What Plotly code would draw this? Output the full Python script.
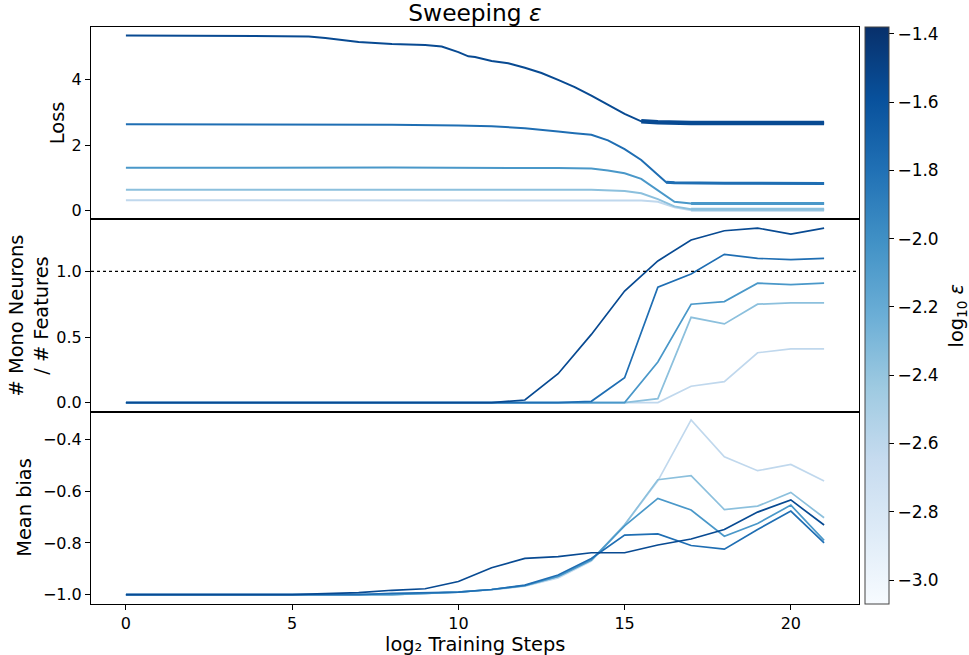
import plotly.graph_objects as go
from plotly.subplots import make_subplots
from plotly.colors import sample_colorscale

# ---------------- data ----------------
log10_eps = [-1.4, -1.7, -2.0, -2.3, -2.6]
color_frac = [0.9, 0.76, 0.6, 0.42, 0.27]

# Loss curves (x = log2 training steps)
loss1_x = [0, 5, 5.5, 6, 7, 8, 9, 9.5, 10, 10.3, 10.5, 11, 11.5, 12, 12.5, 13, 13.5, 14, 14.5, 15, 15.5, 16, 17, 18, 19, 20, 21]
loss1_y = [5.36, 5.35, 5.33, 5.28, 5.16, 5.10, 5.07, 5.02, 4.85, 4.72, 4.70, 4.58, 4.51, 4.37, 4.21, 4.00, 3.78, 3.52, 3.24, 2.96, 2.73, 2.70, 2.68, 2.68, 2.68, 2.68, 2.68]
loss2_x = [0, 5, 8, 10, 11, 12, 12.5, 13, 13.5, 14, 14.5, 15, 15.5, 16, 16.25, 16.5, 18, 21]
loss2_y = [2.64, 2.64, 2.63, 2.60, 2.58, 2.52, 2.48, 2.42, 2.37, 2.32, 2.15, 1.88, 1.55, 1.08, 0.87, 0.85, 0.84, 0.83]
loss3_x = [0, 8, 13, 14, 14.5, 15, 15.5, 16, 16.5, 17, 21]
loss3_y = [1.31, 1.32, 1.30, 1.29, 1.23, 1.14, 0.97, 0.62, 0.27, 0.22, 0.22]
loss4_x = [0, 14, 15, 15.5, 16, 16.5, 17, 21]
loss4_y = [0.64, 0.64, 0.60, 0.53, 0.35, 0.13, 0.04, 0.04]
loss5_x = [0, 15.5, 16, 16.5, 17, 21]
loss5_y = [0.32, 0.31, 0.27, 0.10, 0.01, 0.01]
loss_x = [loss1_x, loss2_x, loss3_x, loss4_x, loss5_x]
loss_y = [loss1_y, loss2_y, loss3_y, loss4_y, loss5_y]
loss_band_start = [15.5, 16.25, 17, 17, 17]
loss_band_width = [4.5, 3.0, 3.0, 3.0, 3.0]

steps = [0, 1, 2, 3, 4, 5, 6, 7, 8, 9, 10, 11, 12, 13, 14, 15, 16, 17, 18, 19, 20, 21]

mono1 = [0, 0, 0, 0, 0, 0, 0, 0, 0, 0, 0, 0, 0.02, 0.22, 0.52, 0.85, 1.08, 1.24, 1.31, 1.33, 1.285, 1.33]
mono2 = [0, 0, 0, 0, 0, 0, 0, 0, 0, 0, 0, 0, 0, 0, 0.01, 0.19, 0.88, 0.98, 1.13, 1.10, 1.09, 1.10]
mono3 = [0, 0, 0, 0, 0, 0, 0, 0, 0, 0, 0, 0, 0, 0, 0, 0, 0.31, 0.75, 0.77, 0.91, 0.90, 0.91]
mono4 = [0, 0, 0, 0, 0, 0, 0, 0, 0, 0, 0, 0, 0, 0, 0, 0, 0.03, 0.65, 0.60, 0.75, 0.76, 0.76]
mono5 = [0, 0, 0, 0, 0, 0, 0, 0, 0, 0, 0, 0, 0, 0, 0, 0, 0, 0.125, 0.16, 0.38, 0.41, 0.41]
mono = [mono1, mono2, mono3, mono4, mono5]

bias1 = [-1.0, -1.0, -1.0, -1.0, -1.0, -1.0, -0.996, -0.992, -0.983, -0.977, -0.949, -0.896, -0.86, -0.853, -0.838, -0.838, -0.808, -0.785, -0.748, -0.681, -0.634, -0.731]
bias2 = [-1.0, -1.0, -1.0, -1.0, -1.0, -1.0, -1.0, -1.0, -0.995, -0.992, -0.99, -0.98, -0.963, -0.924, -0.86, -0.77, -0.765, -0.81, -0.824, -0.748, -0.677, -0.80]
bias3 = [-1.0, -1.0, -1.0, -1.0, -1.0, -1.0, -1.0, -1.0, -1.0, -0.995, -0.99, -0.98, -0.965, -0.93, -0.866, -0.734, -0.628, -0.673, -0.774, -0.725, -0.654, -0.79]
bias4 = [-1.0, -1.0, -1.0, -1.0, -1.0, -1.0, -1.0, -1.0, -1.0, -0.995, -0.99, -0.98, -0.965, -0.93, -0.866, -0.73, -0.556, -0.54, -0.671, -0.658, -0.605, -0.703]
bias5 = [-1.0, -1.0, -1.0, -1.0, -1.0, -1.0, -1.0, -1.0, -1.0, -0.996, -0.99, -0.982, -0.967, -0.935, -0.87, -0.73, -0.56, -0.325, -0.467, -0.521, -0.497, -0.561]
bias = [bias1, bias2, bias3, bias4, bias5]

x_ticks = [0, 5, 10, 15, 20]
cbar_ticks = [-3.0, -2.8, -2.6, -2.4, -2.2, -2.0, -1.8, -1.6, -1.4]
cbar_min, cbar_max = -3.07, -1.38

# ---------------- figure ----------------
FONT = "DejaVu Sans"
TFS = 16      # tick labels
LFS = 19.4    # axis labels
W, H = 969, 655
ML, MR, MT, MB = 91, 110, 27, 51
colors = sample_colorscale("Blues", color_frac)

pw = W - ML - MR
ph = H - MT - MB
def px(xpix):
    return (xpix - ML) / pw
def py(ypix):
    return (H - MB - ypix) / ph

fig = make_subplots(rows=3, cols=1, shared_xaxes=True, vertical_spacing=0)

order = [4, 3, 2, 1, 0]  # lightest first, darkest on top
for i in order:
    c = colors[i]
    fig.add_trace(go.Scatter(x=loss_x[i], y=loss_y[i], mode="lines",
                             line=dict(color=c, width=2), showlegend=False,
                             hoverinfo="skip"), row=1, col=1)
    bx = [x for x in loss_x[i] if x >= loss_band_start[i]]
    by = [y for x, y in zip(loss_x[i], loss_y[i]) if x >= loss_band_start[i]]
    fig.add_trace(go.Scatter(x=bx, y=by, mode="lines",
                             line=dict(color=c, width=loss_band_width[i]),
                             showlegend=False, hoverinfo="skip"), row=1, col=1)
for i in order:
    fig.add_trace(go.Scatter(x=steps, y=mono[i], mode="lines",
                             line=dict(color=colors[i], width=1.7), showlegend=False),
                  row=2, col=1)
for i in order:
    fig.add_trace(go.Scatter(x=steps, y=bias[i], mode="lines",
                             line=dict(color=colors[i], width=1.7), showlegend=False),
                  row=3, col=1)

# colorbar via a dummy trace
fig.add_trace(go.Scatter(
    x=[None], y=[None], mode="markers", showlegend=False,
    marker=dict(colorscale="Blues", cmin=cbar_min, cmax=cbar_max, color=[-2.0],
                showscale=True,
                colorbar=dict(
                    xref="paper", x=px(865), xanchor="left", xpad=0,
                    yref="paper", y=0.5, yanchor="middle",
                    lenmode="fraction", len=1.0, ypad=0,
                    thickness=24, outlinewidth=1, outlinecolor="#444",
                    tickvals=cbar_ticks, tickformat=".1f", ticks="outside",
                    ticklen=5, tickwidth=1.2, tickcolor="black",
                    tickfont=dict(family=FONT, size=TFS + 1, color="black"),
                ))), row=1, col=1)

# dotted reference line at 1.0
fig.add_shape(type="line", xref="x2 domain", yref="y2", x0=0, x1=1, y0=1.0, y1=1.0,
              line=dict(color="black", width=1.3, dash="dot"))

axis_common = dict(showline=True, linecolor="black", linewidth=1, mirror=True,
                   showgrid=False, zeroline=False, ticks="outside", ticklen=5,
                   tickwidth=1, tickcolor="black", automargin=False,
                   tickfont=dict(family=FONT, size=TFS, color="black"))

for r in (1, 2, 3):
    fig.update_xaxes(range=[-1.05, 22.05], **axis_common, row=r, col=1)
fig.update_xaxes(showticklabels=False, ticks="", row=1, col=1)
fig.update_xaxes(showticklabels=False, ticks="", row=2, col=1)
fig.update_xaxes(tickvals=x_ticks, showticklabels=True, row=3, col=1)

fig.update_yaxes(range=[-0.267, 5.617], tickvals=[0, 2, 4], **axis_common, row=1, col=1)
fig.update_yaxes(range=[-0.069, 1.397], tickvals=[0.0, 0.5, 1.0], tickformat=".1f",
                 **axis_common, row=2, col=1)
fig.update_yaxes(range=[-1.036, -0.293], tickvals=[-1.0, -0.8, -0.6, -0.4],
                 tickformat=".1f", **axis_common, row=3, col=1)

# axis titles as annotations
lab_font = dict(family=FONT, size=LFS, color="black")
fig.add_annotation(text="log₂ Training Steps", xref="paper", yref="paper",
                   x=0.5, y=py(644), showarrow=False, font=lab_font,
                   xanchor="center", yanchor="middle")
fig.add_annotation(text="Loss", xref="paper", yref="paper", x=px(57), y=5 / 6,
                   textangle=-90, showarrow=False, font=lab_font,
                   xanchor="center", yanchor="middle")
fig.add_annotation(text="# Mono Neurons<br>/ # Features", xref="paper", yref="paper",
                   x=px(28), y=0.5, textangle=-90, showarrow=False, font=lab_font,
                   xanchor="center", yanchor="middle", align="center")
fig.add_annotation(text="Mean bias", xref="paper", yref="paper", x=px(25), y=1 / 6,
                   textangle=-90, showarrow=False, font=lab_font,
                   xanchor="center", yanchor="middle")
fig.add_annotation(text="log<sub>10</sub> <i>ε</i>", xref="paper", yref="paper",
                   x=px(957), y=0.5, textangle=-90, showarrow=False, font=lab_font,
                   xanchor="center", yanchor="middle")

fig.update_layout(
    width=W, height=H,
    margin=dict(l=ML, r=MR, t=MT, b=MB),
    paper_bgcolor="white", plot_bgcolor="white",
    font=dict(family=FONT, size=TFS, color="black"),
    title=dict(text="Sweeping <i>ε</i>", x=0.5, xref="paper", xanchor="center",
               y=1 - 13 / H, yref="container", yanchor="middle",
               font=dict(family=FONT, size=23.3, color="black")),
    showlegend=False,
)

fig.write_html("out.html")
